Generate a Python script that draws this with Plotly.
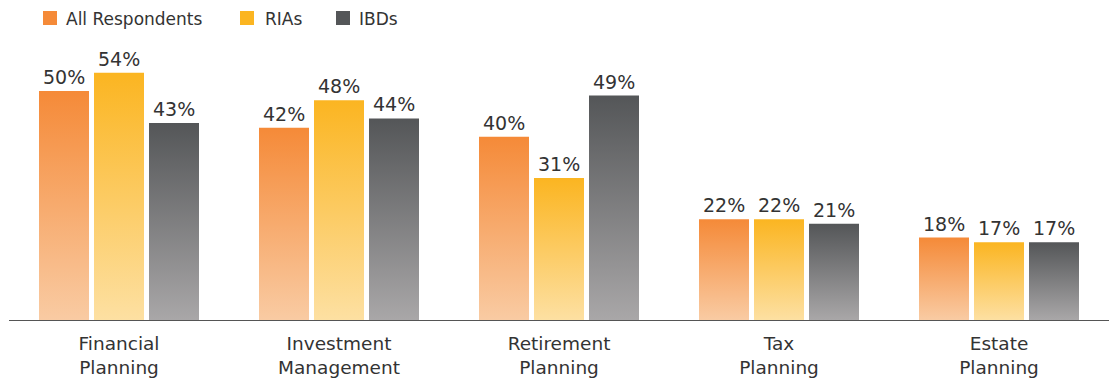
import plotly.graph_objects as go

# Survey data: share of respondents per service area
categories = ["Financial<br>Planning", "Investment<br>Management", "Retirement<br>Planning",
              "Tax<br>Planning", "Estate<br>Planning"]
series_names = ["All Respondents", "RIAs", "IBDs"]
all_respondents = [50, 42, 40, 22, 18]
rias = [54, 48, 31, 22, 17]
ibds = [43, 44, 49, 21, 17]
series_values = [all_respondents, rias, ibds]

# Gradient colours per series: (bottom, top)
gradients = [("#F9CBA3", "#F58A38"), ("#FDE0A2", "#FBB521"), ("#A9A7A8", "#545658")]
legend_colors = ["#F58A38", "#FBB521", "#545658"]

W_FIG, H_FIG = 1116, 381
L, R, T, B = 9, 7, 40, 61
PLOT_W = W_FIG - L - R
PLOT_H = H_FIG - T - B
PX_PER_UNIT_Y = 4.58
Y_MAX = PLOT_H / PX_PER_UNIT_Y

slot = PLOT_W / len(categories)      # pixels per category
bar_w = 50 / slot                    # bar width in axis units
step = 55 / slot                     # distance between bar centres
offsets = [-step, 0, step]

FONT = "DejaVu Sans"
TEXT_COLOR = "#333333"

fig = go.Figure()

for s, (name, vals) in enumerate(zip(series_names, series_values)):
    lo, hi = gradients[s]
    for i, v in enumerate(vals):
        xc = i + offsets[s]
        x0, x1 = xc - bar_w / 2, xc + bar_w / 2
        fig.add_trace(go.Scatter(
            x=[x0, x1, x1, x0, x0],
            y=[0, 0, v, v, 0],
            mode="lines",
            line=dict(width=0),
            fill="toself",
            fillgradient=dict(type="vertical", colorscale=[[0, lo], [1, hi]]),
            hoverinfo="skip",
            showlegend=False,
        ))
        # value label above the bar
        fig.add_annotation(x=xc, y=v, xref="x", yref="y", text=f"{v}%",
                           showarrow=False, xanchor="center", yanchor="bottom",
                           yshift=1,
                           font=dict(family=FONT, size=19, color=TEXT_COLOR))


def paper_x(px):
    return (px - L) / PLOT_W


def paper_y(py):
    return (H_FIG - B - py) / PLOT_H


# Legend row
legend_items = [(43, 64), (240, 263), (336, 357)]
for (sq_x, tx_x), name, col in zip(legend_items, series_names, legend_colors):
    fig.add_shape(type="rect", xref="paper", yref="paper",
                  x0=paper_x(sq_x), x1=paper_x(sq_x + 14),
                  y0=paper_y(25), y1=paper_y(11),
                  fillcolor=col, line=dict(width=0))
    fig.add_annotation(xref="paper", yref="paper", x=paper_x(tx_x), y=paper_y(18.5),
                       xanchor="left", yanchor="middle", text=name, showarrow=False,
                       font=dict(family=FONT, size=17, color=TEXT_COLOR))

fig.update_layout(
    width=W_FIG, height=H_FIG,
    margin=dict(l=L, r=R, t=T, b=B, autoexpand=False),
    paper_bgcolor="white", plot_bgcolor="white",
    showlegend=False,
    xaxis=dict(range=[-0.5, len(categories) - 0.5], tickvals=list(range(len(categories))),
               ticktext=categories, showgrid=False, zeroline=False,
               showline=True, linecolor="#555555", linewidth=1.2, ticks="",
               ticklabelstandoff=7, automargin=False,
               tickfont=dict(family=FONT, size=18.5, color=TEXT_COLOR), fixedrange=True),
    yaxis=dict(range=[0, Y_MAX], showgrid=False, zeroline=False, showticklabels=False,
               showline=False, fixedrange=True, automargin=False),
)

fig.write_html("out.html")
